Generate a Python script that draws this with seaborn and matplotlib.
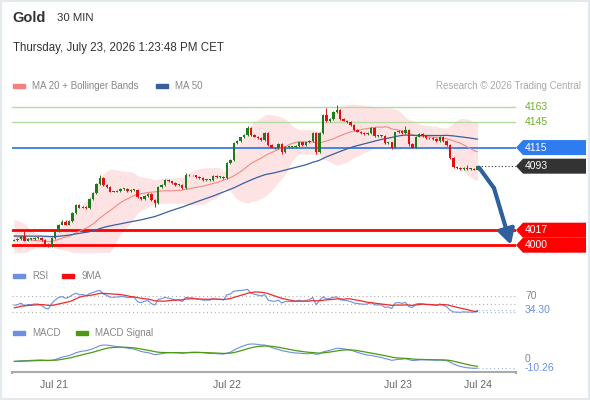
import numpy as np
import pandas as pd
import seaborn as sns
import matplotlib.pyplot as plt
from matplotlib import transforms as mtrans
from matplotlib.patches import Polygon, Rectangle

# Schlusskurse vor dem sichtbaren Bereich (nur fuer die Indikatoren)
history_closes = [
    4012, 4010, 4008, 4011, 4014, 4009, 4006, 4004, 4007, 4010,
    4013, 4016, 4012, 4008, 4005, 4002, 4000, 4003, 4007, 4011,
    4015, 4018, 4016, 4012, 4009, 4006, 4010, 4014, 4019, 4023,
    4026, 4024, 4021, 4025, 4028, 4024, 4020, 4016, 4012, 4008,
    4004, 4001, 3998, 3996, 3999, 4002, 4005, 4003, 4004, 4005,
]

# 30 min candles, Gold
closes = [
    4006, 4007, 4010, 4005, 4007, 4007, 4008, 4008, 4006, 4001,
    3999, 4008, 4016, 4024, 4027, 4024, 4028, 4038, 4047, 4044,
    4045, 4043, 4054, 4061, 4072, 4079, 4071, 4068, 4063, 4063,
    4064, 4066, 4066, 4064, 4065, 4065, 4056, 4054, 4058, 4060,
    4053, 4049, 4068, 4071, 4077, 4075, 4073, 4071, 4071, 4067,
    4083, 4082, 4082, 4080, 4079, 4077, 4077, 4077, 4081, 4080,
    4080, 4079, 4097, 4100, 4120, 4123, 4127, 4130, 4138, 4130,
    4128, 4126, 4124, 4132, 4118, 4115, 4114, 4119, 4110, 4116,
    4116, 4116, 4117, 4121, 4118, 4121, 4123, 4132, 4110, 4132,
    4154, 4146, 4149, 4157, 4160, 4149, 4147, 4145, 4142, 4136,
    4134, 4132, 4131, 4132, 4138, 4129, 4129, 4129, 4120, 4121,
    4115, 4133, 4135, 4132, 4136, 4119, 4115, 4128, 4131, 4129,
    4126, 4126, 4125, 4123, 4128, 4123, 4118, 4103, 4092, 4091,
    4090, 4091, 4090, 4090, 4089, 4093,
]
up_wick = [
    1, 1, 1, 6, 1, 1, 1, 1, 1, 1,
    1, 1, 1, 1, 2, 2, 1, 1, 1, 1,
    1, 1, 1, 1, 1, 4, 1, 1, 1, 1,
    1, 1, 1, 1, 1, 1, 1, 1, 1, 1,
    1, 1, 1, 1, 1, 1, 1, 1, 1, 1,
    2, 1, 1, 1, 1, 1, 1, 1, 1, 1,
    1, 1, 1, 1, 1, 1, 1, 1, 3, 1,
    1, 1, 1, 1, 1, 1, 1, 1, 1, 1,
    1, 1, 1, 1, 1, 1, 1, 1, 1, 1,
    1, 8, 1, 1, 5, 1, 1, 1, 1, 1,
    1, 1, 1, 1, 1, 1, 1, 1, 1, 1,
    1, 1, 1, 1, 4, 1, 1, 1, 1, 1,
    1, 1, 1, 1, 1, 1, 1, 1, 1, 1,
    1, 1, 3, 1, 1, 1,
]
dn_wick = [
    1, 1, 1, 1, 1, 1, 1, 1, 1, 1,
    2, 1, 1, 1, 1, 1, 1, 1, 1, 1,
    1, 1, 1, 1, 1, 1, 1, 1, 1, 1,
    1, 1, 1, 1, 1, 1, 1, 1, 1, 1,
    1, 4, 1, 1, 1, 1, 1, 1, 1, 1,
    1, 1, 1, 1, 1, 1, 1, 1, 1, 1,
    1, 1, 1, 1, 1, 1, 1, 1, 1, 1,
    1, 1, 1, 1, 1, 1, 1, 1, 3, 1,
    1, 1, 1, 1, 1, 1, 1, 1, 3, 1,
    1, 1, 1, 1, 1, 1, 1, 1, 1, 1,
    1, 1, 1, 1, 1, 1, 1, 1, 1, 1,
    2, 1, 1, 1, 1, 2, 1, 1, 1, 1,
    1, 1, 1, 1, 1, 1, 1, 1, 1, 1,
    1, 1, 1, 1, 1, 1,
]

day_ticks = [11.6, 61.9, 111.9, 135.2]
day_labels = ['Jul 21', 'Jul 22', 'Jul 23', 'Jul 24']

resist = [4163, 4145]
pivot = 4115
last_price = 4093
supports = [4017, 4000]
rsi_last = 34.30
macd_last = -10.26

# Farben
GREEN = '#1f7a1f'
RED = '#e31010'
PINK = '#f28b82'
BLUE50 = '#3a5f9f'
LINEBLUE = '#6b8fe3'

# Indikatoren auf der ganzen Reihe, danach nur den sichtbaren Teil behalten
full = pd.Series(history_closes + closes, dtype=float)
ind = pd.DataFrame({'close': full})
ind['ma20'] = full.rolling(20, min_periods=1).mean()
sd = full.rolling(20, min_periods=2).std().bfill()
ind['bb_up'] = ind['ma20'] + 2 * sd
ind['bb_lo'] = ind['ma20'] - 2 * sd
ind['ma50'] = full.rolling(50, min_periods=1).mean()
d = full.diff().fillna(0)
gain = d.clip(lower=0).ewm(alpha=1 / 14, adjust=False).mean()
loss = (-d.clip(upper=0)).ewm(alpha=1 / 14, adjust=False).mean()
ind['rsi'] = (100 - 100 / (1 + gain / loss.replace(0, np.nan))).fillna(50)
ind['rsi9'] = ind['rsi'].rolling(9, min_periods=1).mean()
ema12 = full.ewm(span=12, adjust=False).mean()
ema26 = full.ewm(span=26, adjust=False).mean()
ind['macd'] = ema12 - ema26
ind['signal'] = ind['macd'].ewm(span=9, adjust=False).mean()

df = ind.iloc[len(history_closes):].reset_index(drop=True)
df['open'] = [history_closes[-1]] + closes[:-1]
df['x'] = np.arange(len(df))
df['top'] = df[['open', 'close']].max(axis=1)
df['bot'] = df[['open', 'close']].min(axis=1)
df['high'] = df['top'] + up_wick
df['low'] = df['bot'] - dn_wick

sns.set_style('white')
plt.rcParams['font.family'] = ['Liberation Sans', 'DejaVu Sans']

W, H = 590, 400
fig = plt.figure(figsize=(W / 100, H / 100), dpi=100)


def box(l, t, r, b):
    return [l / W, 1 - b / H, (r - l) / W, (b - t) / H]


ax = fig.add_axes(box(12, 97, 516, 252))
ax_rsi = fig.add_axes(box(12, 285, 516, 318))
ax_macd = fig.add_axes(box(12, 340, 516, 372))
xlim = (-0.6, 146.2)
for a in (ax, ax_rsi, ax_macd):
    a.set_xlim(*xlim)
    a.set_facecolor('none')
    for s in a.spines.values():
        s.set_visible(False)
    a.set_xticks([])
    a.set_yticks([])

ax.set_ylim(3991.5, 4174.8)

# Bollinger + MAs
ax.fill_between(df['x'], df['bb_lo'], df['bb_up'], color='#fde3e3', lw=0, zorder=1)
sns.lineplot(data=df, x='x', y='ma20', ax=ax, color=PINK, lw=0.8, zorder=2)
sns.lineplot(data=df, x='x', y='ma50', ax=ax, color=BLUE50, lw=0.9, zorder=2)

# Level-Linien
for lv in resist:
    ax.axhline(lv, color='#b7da9f', lw=1, zorder=1.5)
ax.axhline(pivot, color='#3b7de0', lw=1.3, zorder=1.5)
for lv in supports:
    ax.axhline(lv, color='#ff0000', lw=2, zorder=1.5)
ax.plot([df['x'].iloc[-1], xlim[1]], [last_price, last_price],
        color='#333333', lw=0.8, ls=(0, (1, 2)), zorder=2)

# Kerzen
cols = np.where(df['close'] >= df['open'], GREEN, RED)
ax.vlines(df['x'], df['low'], df['high'], colors=cols, lw=0.7, zorder=3)
heights = np.maximum(df['top'] - df['bot'], 0.8)
ax.bar(df['x'], heights, bottom=df['bot'], width=0.7, color=cols, lw=0, zorder=4)

# Pfeil Richtung 4000
x0 = df['x'].iloc[-1] + 0.5
ax.plot([x0, x0 + 4.3], [last_price - 2, last_price - 26], color='#2f5f9e',
        lw=3, solid_capstyle='round', zorder=5)
ax.annotate('', xy=(x0 + 9.2, 4000), xytext=(x0 + 4.3, last_price - 26),
            arrowprops=dict(arrowstyle='-|>,head_length=0.9,head_width=0.5',
                            color='#2f5f9e', lw=3, shrinkA=0, shrinkB=0),
            zorder=5)

# Preisschilder rechts
tr = mtrans.blended_transform_factory(ax.transAxes, ax.transData)
px_unit = (ax.get_ylim()[1] - ax.get_ylim()[0]) / (252 - 97)
fx = lambda p: (p - 12) / 504


def tag(y_val, txt, face, y_pos=None):
    yc = y_val if y_pos is None else y_pos
    hh = 7.5 * px_unit
    pts = [(fx(516), yc), (fx(523), yc + hh), (fx(586), yc + hh),
           (fx(586), yc - hh), (fx(523), yc - hh)]
    ax.add_patch(Polygon(pts, closed=True, transform=tr, facecolor=face,
                         edgecolor='none', clip_on=False, zorder=6))
    ax.text(fx(525), yc, txt, transform=tr, color='white', fontsize=7.5,
            va='center', ha='left', clip_on=False, zorder=7)


for lv in resist:
    ax.text(fx(525), lv, str(lv), transform=tr, color='#6fae28', fontsize=7.5,
            va='center', ha='left', clip_on=False)
tag(pivot, str(pivot), '#2f7cf0')
tag(last_price, str(last_price), '#333333')
tag(supports[0], str(supports[0]), '#ff0000', y_pos=supports[0] + 0.3)
tag(supports[1], str(supports[1]), '#ff0000', y_pos=supports[0] - 15 * px_unit + 0.3)

# RSI
ax_rsi.set_ylim(15, 97.5)
for lv in (70, 50, 30):
    ax_rsi.axhline(lv, color='#b0b0b0', lw=0.8, ls=(0, (1, 2.5)))
ax_rsi.plot([df['x'].iloc[-1], xlim[1]], [rsi_last, rsi_last], color='#9fb4e8',
            lw=0.8, ls=(0, (1, 2.5)))
sns.lineplot(data=df, x='x', y='rsi', ax=ax_rsi, color=LINEBLUE, lw=0.8)
sns.lineplot(data=df, x='x', y='rsi9', ax=ax_rsi, color='#ee2a2a', lw=0.9)
trr = mtrans.blended_transform_factory(ax_rsi.transAxes, ax_rsi.transData)
ax_rsi.text(fx(525), 70, '70', transform=trr, color='#888888', fontsize=7.5,
            va='center', clip_on=False)
ax_rsi.text(fx(525), rsi_last, f'{rsi_last:.2f}', transform=trr, color=LINEBLUE,
            fontsize=7.5, va='center', clip_on=False)

# MACD
ax_macd.set_ylim(-14.8, 21.7)
ax_macd.plot([df['x'].iloc[-1], xlim[1]], [macd_last, macd_last], color='#9fb4e8',
             lw=0.8, ls=(0, (1, 2.5)))
sns.lineplot(data=df, x='x', y='macd', ax=ax_macd, color=LINEBLUE, lw=0.8)
sns.lineplot(data=df, x='x', y='signal', ax=ax_macd, color='#4c9a12', lw=0.9)
trm = mtrans.blended_transform_factory(ax_macd.transAxes, ax_macd.transData)
ax_macd.text(fx(525), 0, '0', transform=trm, color='#888888', fontsize=7.5,
             va='center', clip_on=False)
ax_macd.text(fx(525), macd_last, f'{macd_last:.2f}', transform=trm, color=LINEBLUE,
             fontsize=7.5, va='center', clip_on=False)

# x-Achse unten
ax_macd.spines['bottom'].set_visible(True)
ax_macd.spines['bottom'].set_color('#aaaaaa')
ax_macd.spines['bottom'].set_linewidth(1.5)
ax_macd.set_xticks(day_ticks)
ax_macd.set_xticklabels(day_labels, color='#666666', fontsize=7.5)
ax_macd.tick_params(axis='x', length=0, pad=6)
ax_macd.vlines([xlim[0] + 0.1, xlim[1] - 0.1], -17.5, -14.8, color='#aaaaaa',
               lw=1.5, clip_on=False)
for a in (ax, ax_rsi, ax_macd):
    a.set_xlabel('')
    a.set_ylabel('')

# Kopf
fig.text(12 / W, 1 - 18 / H, 'Gold', fontsize=10.5, fontweight='bold', color='#333333',
         va='center')
fig.text(57 / W, 1 - 18 / H, '30 MIN', fontsize=8.2, color='#333333', va='center')
fig.text(13 / W, 1 - 48 / H, 'Thursday, July 23, 2026 1:23:48 PM CET', fontsize=8.3,
         color='#333333', va='center')


def legend_item(x, y, col, txt):
    fig.patches.append(Rectangle((x / W, 1 - (y + 2) / H), 12 / W, 4 / H,
                                 transform=fig.transFigure, color=col))
    fig.text((x + 19) / W, 1 - y / H, txt, fontsize=7, color='#888888', va='center')


legend_item(13, 86, '#f77f7f', 'MA 20 + Bollinger Bands')
legend_item(156, 86, BLUE50, 'MA 50')
legend_item(13, 276, LINEBLUE, 'RSI')
legend_item(62, 276, '#ee1111', '9MA')
legend_item(13, 333, LINEBLUE, 'MACD')
legend_item(76, 333, '#4c9a12', 'MACD Signal')
fig.text(581 / W, 1 - 86 / H, 'Research © 2026 Trading Central', fontsize=7,
         color='#aaaaaa', va='center', ha='right')

# Rahmen
fig.patches.append(Rectangle((0, 0), 1, 1, transform=fig.transFigure, fill=False,
                             edgecolor='#e4e9ee', lw=3))

fig.savefig('out.png', dpi=100)
